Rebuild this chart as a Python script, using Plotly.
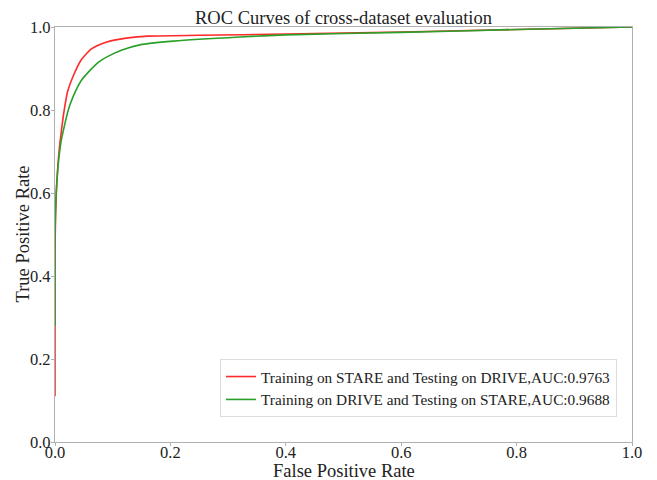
import plotly.graph_objects as go

fpr_red = [0, 0, 0.001, 0.003, 0.007, 0.012, 0.016, 0.022, 0.031, 0.045, 0.061, 0.075, 0.09, 0.105, 0.118, 0.135, 0.16, 0.25, 0.4, 0.6, 0.8, 1.0]
tpr_red = [0.11, 0.45, 0.55, 0.62, 0.70, 0.76, 0.80, 0.845, 0.88, 0.92, 0.945, 0.956, 0.964, 0.969, 0.972, 0.975, 0.978, 0.980, 0.983, 0.988, 0.994, 1.0]

fpr_green = [0, 0, 0.002, 0.005, 0.010, 0.016, 0.023, 0.031, 0.045, 0.061, 0.075, 0.09, 0.115, 0.147, 0.205, 0.32, 0.4, 0.6, 0.8, 1.0]
tpr_green = [0.28, 0.50, 0.60, 0.66, 0.72, 0.76, 0.80, 0.831, 0.87, 0.896, 0.915, 0.928, 0.944, 0.957, 0.966, 0.976, 0.981, 0.987, 0.994, 1.0]

name_red = "Training on STARE and Testing on DRIVE,AUC:0.9763"
name_green = "Training on DRIVE and Testing on STARE,AUC:0.9688"
tick_vals = [0.0, 0.2, 0.4, 0.6, 0.8, 1.0]
tick_text = ["0.0", "0.2", "0.4", "0.6", "0.8", "1.0"]

FONT = "Liberation Serif"
TXT = "#222222"

# the page body has an 8px margin, so the figure is drawn 8px smaller
W, H = 649, 472
ML, MR, MT, MB = 47, 25, 19, 38
PW, PH = W - ML - MR, H - MT - MB

fig = go.Figure()
fig.add_trace(go.Scatter(x=fpr_red, y=tpr_red, mode="lines", name=name_red,
                         line=dict(color="#ff2a2a", width=1.6, shape="spline", smoothing=0.5)))
fig.add_trace(go.Scatter(x=fpr_green, y=tpr_green, mode="lines", name=name_green,
                         line=dict(color="#2aa02a", width=1.6, shape="spline", smoothing=0.5)))

axis_common = dict(
    range=[0, 1], tickvals=tick_vals, ticktext=tick_text,
    showgrid=False, zeroline=False, showline=True, mirror=True,
    linecolor="#b0b0b0", linewidth=1.2, ticks="outside", ticklen=3,
    tickcolor="#b0b0b0", tickfont=dict(family=FONT, size=16.5, color=TXT),
    automargin=False,
)

fig.update_layout(
    width=W, height=H,
    margin=dict(l=ML, r=MR, t=MT, b=MB),
    paper_bgcolor="white", plot_bgcolor="white",
    font=dict(family=FONT, color=TXT),
    title=dict(text="ROC Curves of cross-dataset evaluation", x=0.5, xanchor="center",
               xref="paper", yref="container", y=1 - 9.5 / H, yanchor="middle",
               font=dict(family=FONT, size=18.5, color=TXT)),
    xaxis=dict(**axis_common, ticklabelstandoff=-8),
    yaxis=dict(**axis_common, ticklabelstandoff=-3),
    legend=dict(x=0.974, y=0.06, xanchor="right", yanchor="bottom",
                bgcolor="white", bordercolor="#dddddd", borderwidth=1,
                font=dict(family=FONT, size=15.3, color=TXT), tracegroupgap=2),
    annotations=[
        dict(text="False Positive Rate", xref="paper", yref="paper", x=0.5,
             y=-29 / PH, xanchor="center", yanchor="middle", showarrow=False,
             font=dict(family=FONT, size=18.5, color=TXT)),
        dict(text="True Positive Rate", xref="paper", yref="paper", x=-33 / PW,
             y=0.5, xanchor="center", yanchor="middle", showarrow=False, textangle=-90,
             font=dict(family=FONT, size=18.5, color=TXT)),
    ],
)

fig.write_html("out.html")
